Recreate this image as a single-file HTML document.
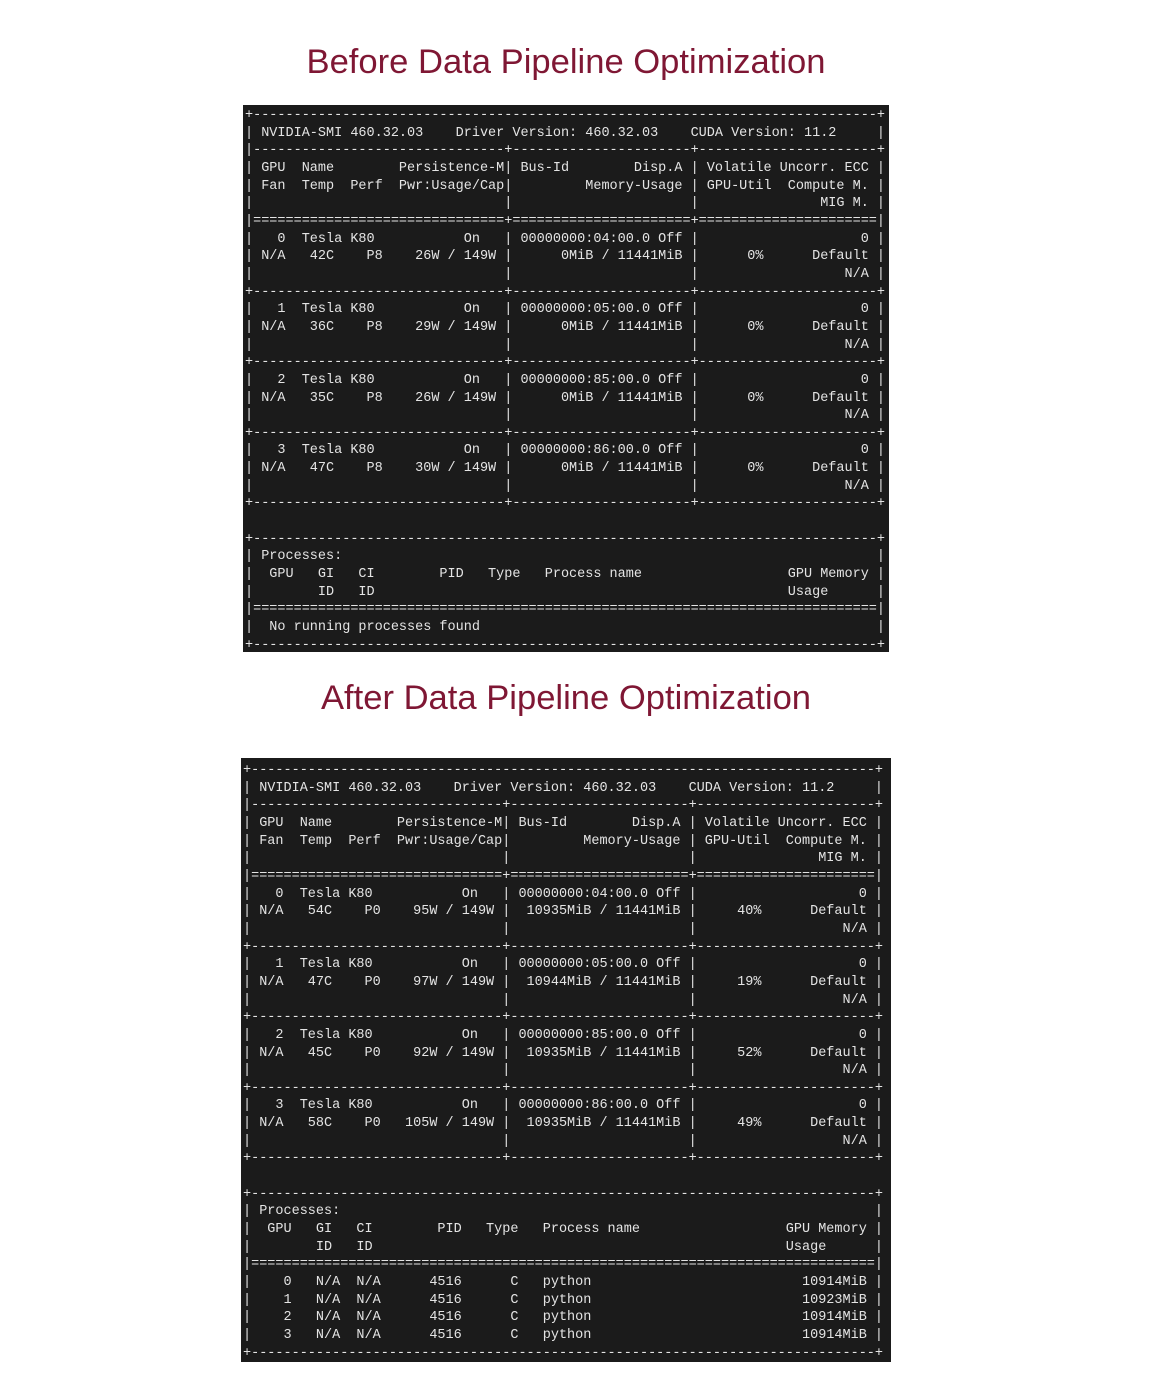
<!DOCTYPE html>
<html>
<head>
<meta charset="utf-8">
<style>
  html,body{margin:0;padding:0;background:#fff;}
  body{width:1157px;height:1393px;position:relative;overflow:hidden;}
  .title{position:absolute;left:0;width:1132px;text-align:center;
    font-family:"Liberation Sans",Arial,sans-serif;font-size:34.6px;color:#7f1734;line-height:40px;}
  .term{position:absolute;background:#1b1b1b;}
  .term pre{margin:0;position:absolute;font-family:"Liberation Mono",monospace;
    font-size:13.5px;line-height:17.65px;color:#e4e4e4;white-space:pre;}
</style>
</head>
<body>
<div class="title" style="top:42px;">Before Data Pipeline Optimization</div>
<div class="term" style="left:243px;top:105px;width:646px;height:547px;">
<pre style="left:2px;top:2px;">+-----------------------------------------------------------------------------+
| NVIDIA-SMI 460.32.03    Driver Version: 460.32.03    CUDA Version: 11.2     |
|-------------------------------+----------------------+----------------------+
| GPU  Name        Persistence-M| Bus-Id        Disp.A | Volatile Uncorr. ECC |
| Fan  Temp  Perf  Pwr:Usage/Cap|         Memory-Usage | GPU-Util  Compute M. |
|                               |                      |               MIG M. |
|===============================+======================+======================|
|   0  Tesla K80           On   | 00000000:04:00.0 Off |                    0 |
| N/A   42C    P8    26W / 149W |      0MiB / 11441MiB |      0%      Default |
|                               |                      |                  N/A |
+-------------------------------+----------------------+----------------------+
|   1  Tesla K80           On   | 00000000:05:00.0 Off |                    0 |
| N/A   36C    P8    29W / 149W |      0MiB / 11441MiB |      0%      Default |
|                               |                      |                  N/A |
+-------------------------------+----------------------+----------------------+
|   2  Tesla K80           On   | 00000000:85:00.0 Off |                    0 |
| N/A   35C    P8    26W / 149W |      0MiB / 11441MiB |      0%      Default |
|                               |                      |                  N/A |
+-------------------------------+----------------------+----------------------+
|   3  Tesla K80           On   | 00000000:86:00.0 Off |                    0 |
| N/A   47C    P8    30W / 149W |      0MiB / 11441MiB |      0%      Default |
|                               |                      |                  N/A |
+-------------------------------+----------------------+----------------------+

+-----------------------------------------------------------------------------+
| Processes:                                                                  |
|  GPU   GI   CI        PID   Type   Process name                  GPU Memory |
|        ID   ID                                                   Usage      |
|=============================================================================|
|  No running processes found                                                 |
+-----------------------------------------------------------------------------+</pre>
</div>

<div class="title" style="top:678px;">After Data Pipeline Optimization</div>
<div class="term" style="left:241px;top:758px;width:650px;height:604px;">
<pre style="left:2px;top:4px;">+-----------------------------------------------------------------------------+
| NVIDIA-SMI 460.32.03    Driver Version: 460.32.03    CUDA Version: 11.2     |
|-------------------------------+----------------------+----------------------+
| GPU  Name        Persistence-M| Bus-Id        Disp.A | Volatile Uncorr. ECC |
| Fan  Temp  Perf  Pwr:Usage/Cap|         Memory-Usage | GPU-Util  Compute M. |
|                               |                      |               MIG M. |
|===============================+======================+======================|
|   0  Tesla K80           On   | 00000000:04:00.0 Off |                    0 |
| N/A   54C    P0    95W / 149W |  10935MiB / 11441MiB |     40%      Default |
|                               |                      |                  N/A |
+-------------------------------+----------------------+----------------------+
|   1  Tesla K80           On   | 00000000:05:00.0 Off |                    0 |
| N/A   47C    P0    97W / 149W |  10944MiB / 11441MiB |     19%      Default |
|                               |                      |                  N/A |
+-------------------------------+----------------------+----------------------+
|   2  Tesla K80           On   | 00000000:85:00.0 Off |                    0 |
| N/A   45C    P0    92W / 149W |  10935MiB / 11441MiB |     52%      Default |
|                               |                      |                  N/A |
+-------------------------------+----------------------+----------------------+
|   3  Tesla K80           On   | 00000000:86:00.0 Off |                    0 |
| N/A   58C    P0   105W / 149W |  10935MiB / 11441MiB |     49%      Default |
|                               |                      |                  N/A |
+-------------------------------+----------------------+----------------------+

+-----------------------------------------------------------------------------+
| Processes:                                                                  |
|  GPU   GI   CI        PID   Type   Process name                  GPU Memory |
|        ID   ID                                                   Usage      |
|=============================================================================|
|    0   N/A  N/A      4516      C   python                          10914MiB |
|    1   N/A  N/A      4516      C   python                          10923MiB |
|    2   N/A  N/A      4516      C   python                          10914MiB |
|    3   N/A  N/A      4516      C   python                          10914MiB |
+-----------------------------------------------------------------------------+</pre>
</div>
</body>
</html>
